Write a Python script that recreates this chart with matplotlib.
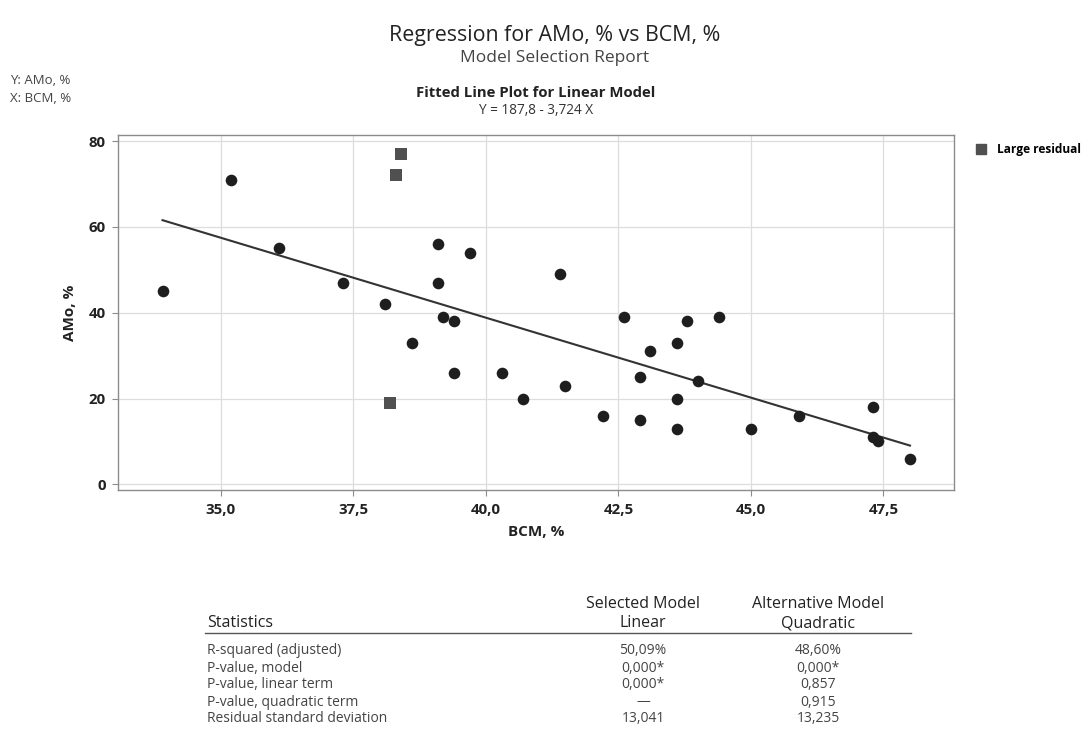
import numpy as np
import matplotlib.pyplot as plt
from matplotlib.lines import Line2D

plt.rcParams['font.family'] = ['Open Sans', 'DejaVu Sans']

# data
bcm = [33.9, 35.2, 36.1, 37.3, 38.1, 38.6, 39.1, 39.1, 39.2, 39.4, 39.4, 39.7,
       40.3, 40.7, 41.4, 41.5, 42.2, 42.6, 42.9, 42.9, 43.1, 43.6, 43.6, 43.6,
       43.8, 44.0, 44.4, 45.0, 45.9, 47.3, 47.3, 47.4, 48.0]
amo = [45, 71, 55, 47, 42, 33, 56, 47, 39, 38, 26, 54,
       26, 20, 49, 23, 16, 39, 25, 15, 31, 33, 20, 13,
       38, 24, 39, 13, 16, 18, 11, 10, 6]
bcm_large = [38.4, 38.3, 38.2]
amo_large = [77, 72, 19]

intercept = 187.8
slope = -3.724

xticks = [35.0, 37.5, 40.0, 42.5, 45.0, 47.5]
yticks = [0, 20, 40, 60, 80]

row_labels = ["R-squared (adjusted)", "P-value, model", "P-value, linear term",
              "P-value, quadratic term", "Residual standard deviation"]
linear_vals = ["50,09%", "0,000*", "0,000*", "\u2014", "13,041"]
quad_vals = ["48,60%", "0,000*", "0,857", "0,915", "13,235"]

W, H = 1091, 740
fig = plt.figure(figsize=(W / 100, H / 100), dpi=100)

def fx(p):
    return p / W

def fy(p):
    return 1 - p / H

ax = fig.add_axes([fx(118), fy(490), fx(954 - 118), (490 - 135) / H])

xs = np.array([min(bcm), max(bcm)])
ax.plot(xs, intercept + slope * xs, color='#333333', lw=1.5, zorder=2)
ax.scatter(bcm, amo, s=70, color='#1e1e1e', zorder=3, linewidths=0)
ax.scatter(bcm_large, amo_large, s=70, marker='s', color='#505050', zorder=3, linewidths=0)

ax.set_xlim(33.06, 48.83)
ax.set_ylim(-1.3, 81.4)
ax.set_xticks(xticks)
ax.set_xticklabels([f"{t:.1f}".replace('.', ',') for t in xticks])
ax.set_yticks(yticks)
ax.grid(True, color='#dddddd', lw=0.9)
ax.set_axisbelow(True)
for s in ax.spines.values():
    s.set_color('#8c8c8c')
    s.set_linewidth(1.0)
ax.tick_params(colors='#8c8c8c', length=4, labelcolor='#222222', labelsize=10.8, pad=5)
for lab in ax.get_xticklabels() + ax.get_yticklabels():
    lab.set_fontweight('bold')
ax.set_xlabel("BCM, %", fontsize=11, fontweight='bold', color='#222222', labelpad=6)
ax.set_ylabel("AMo, %", fontsize=11, fontweight='bold', color='#222222', labelpad=8)

# legend
leg = fig.legend(handles=[Line2D([], [], marker='s', ls='', color='#505050', markersize=7)],
                 labels=["Large residual"], loc='center left',
                 bbox_to_anchor=(fx(958), fy(150)), frameon=False,
                 handletextpad=0.4, prop={'size': 8.6, 'weight': 'bold'})

# titles
fig.text(fx(555), fy(35), "Regression for AMo, % vs BCM, %", ha='center', va='center',
         fontsize=15.4, color='#222222')
fig.text(fx(555), fy(58), "Model Selection Report", ha='center', va='center',
         fontsize=12.5, color='#444444')
fig.text(fx(10), fy(80), "Y: AMo, %", ha='left', va='center', fontsize=9.5, color='#444444')
fig.text(fx(10), fy(99), "X: BCM, %", ha='left', va='center', fontsize=9.5, color='#444444')
fig.text(fx(536), fy(93), "Fitted Line Plot for Linear Model", ha='center', va='center',
         fontsize=10.7, fontweight='bold', color='#222222')
fig.text(fx(536), fy(111), "Y = 187,8 - 3,724 X", ha='center', va='center',
         fontsize=9.8, color='#333333')

# statistics table
col1, col2 = 643, 818
hdr = dict(va='center', fontsize=11.5, color='#222222')
fig.text(fx(207), fy(623), "Statistics", ha='left', **hdr)
fig.text(fx(col1), fy(604), "Selected Model", ha='center', **hdr)
fig.text(fx(col1), fy(623), "Linear", ha='center', **hdr)
fig.text(fx(col2), fy(604), "Alternative Model", ha='center', **hdr)
fig.text(fx(col2), fy(623), "Quadratic", ha='center', **hdr)
fig.add_artist(Line2D([fx(205), fx(911)], [fy(633), fy(633)], color='#555555', lw=1.0))
for i, (lab, a, b) in enumerate(zip(row_labels, linear_vals, quad_vals)):
    y = fy(651 + 17 * i)
    fig.text(fx(207), y, lab, ha='left', va='center', fontsize=10, color='#444444')
    fig.text(fx(col1), y, a, ha='center', va='center', fontsize=10, color='#444444')
    fig.text(fx(col2), y, b, ha='center', va='center', fontsize=10, color='#444444')

fig.savefig("out.png", dpi=100)
